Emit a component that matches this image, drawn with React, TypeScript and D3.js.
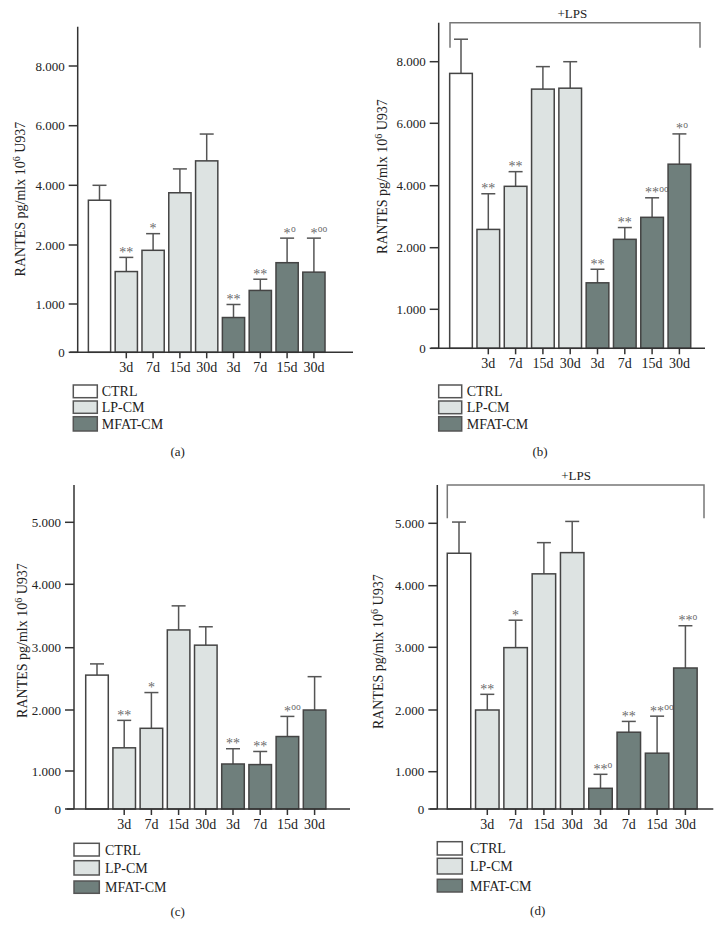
import React from "react";
import * as d3 from "d3";

// ---------- data ----------
const groups = ["CTRL", "LP-CM", "MFAT-CM"];
const days = ["3d", "7d", "15d", "30d"];
const barKeys = ["CTRL", "LP-3d", "LP-7d", "LP-15d", "LP-30d", "MF-3d", "MF-7d", "MF-15d", "MF-30d"];
const barGroup = [0, 1, 1, 1, 1, 2, 2, 2, 2];
const barLabels = ["", ...days, ...days];

const ticksAB = [0, 1000, 2000, 4000, 6000, 8000];
const ticksCD = [0, 1000, 2000, 3000, 4000, 5000];

// panel (a)
const meanA = [3500, 1550, 1910, 3750, 4820, 720, 1230, 1700, 1540];
const errA = [500, 240, 470, 800, 900, 270, 190, 530, 690];
const starsA = ["", "**", "*", "", "", "**", "**", "*", "*"];
const circlesA = ["", "", "", "", "", "", "", "o", "oo"];

// panel (b) +LPS
const meanB = [7620, 2590, 3980, 7110, 7140, 1430, 2270, 2980, 4690];
const errB = [1110, 1150, 470, 730, 860, 220, 380, 630, 970];
const starsB = ["", "**", "**", "", "", "**", "**", "**", "*"];
const circlesB = ["", "", "", "", "", "", "", "oo", "o"];

// panel (c)
const meanC = [2560, 1380, 1700, 3280, 3040, 1115, 1105, 1565, 2000];
const errC = [180, 450, 580, 380, 290, 250, 215, 330, 535];
const starsC = ["", "**", "*", "", "", "**", "**", "*", ""];
const circlesC = ["", "", "", "", "", "", "", "oo", ""];

// panel (d) +LPS
const meanD = [4520, 2000, 2995, 4190, 4530, 555, 1640, 1300, 2670];
const errD = [500, 250, 445, 500, 500, 375, 175, 600, 680];
const starsD = ["", "**", "*", "", "", "**", "**", "**", "**"];
const circlesD = ["", "", "", "", "", "o", "", "oo", "o"];

const captions = ["(a)", "(b)", "(c)", "(d)"];
const bracketLabel = "+LPS";

// ---------- style / layout ----------
const FILLS = ["#ffffff", "#dde3e2", "#6f7f7c"];
const FONT = "'Liberation Serif', 'Times New Roman', serif";
const fmt = d3.formatLocale({ decimal: ",", thousands: ".", grouping: [3], currency: ["", ""] }).format(",");

type Layout = {
  yPix: number[];
  axisX: number;
  axisTop: number;
  xStart: number;
  xEnd: number;
  c0: number;
  step: number;
  legendX: number;
  legendW: number;
  legendY: number[];
  legendH: number[];
  labelX: number;
  caption: [number, number];
  titleX: number;
  titleY: number;
  bracket?: { x1: number; x2: number; y: number; y2: number; tx: number; ty: number };
};

const layouts: Layout[] = [
  {
    yPix: [352.3, 304, 245, 185.3, 125.7, 66],
    axisX: 77.7, axisTop: 26.7, xStart: 70, xEnd: 353, c0: 99.5, step: 26.8,
    legendX: 73.3, legendW: 24, legendY: [385, 401, 416.7], legendH: [12.7, 12.3, 14.3], labelX: 101.7,
    caption: [177.7, 456], titleX: 20, titleY: 199,
  },
  {
    yPix: [348.3, 309.3, 247.7, 185.7, 123.3, 61.7],
    axisX: 438.7, axisTop: 22.7, xStart: 431, xEnd: 705, c0: 461, step: 27.3,
    legendX: 438.7, legendW: 23, legendY: [385, 401, 416.7], legendH: [12.7, 12.7, 14.3], labelX: 466.7,
    caption: [540, 456], titleX: 381.7, titleY: 176.5,
    bracket: { x1: 450, x2: 700, y: 22.7, y2: 47.7, tx: 572.3, ty: 18 },
  },
  {
    yPix: [809, 771, 710, 647.7, 584.3, 522.3],
    axisX: 74, axisTop: 485, xStart: 66.7, xEnd: 350, c0: 97, step: 27.2,
    legendX: 74, legendW: 25.3, legendY: [843.3, 860.7, 881], legendH: [12.7, 14.3, 12.3], labelX: 105,
    caption: [177.7, 916], titleX: 21.7, titleY: 640.5,
  },
  {
    yPix: [809, 771.7, 710, 647.3, 585.7, 523.3],
    axisX: 437.3, axisTop: 485, xStart: 430, xEnd: 713.3, c0: 459, step: 28.3,
    legendX: 437.3, legendW: 25, legendY: [841.7, 858.3, 879.3], legendH: [13.3, 15.7, 12.7], labelX: 470,
    caption: [537.7, 915], titleX: 378.3, titleY: 651.7,
    bracket: { x1: 447.3, x2: 704, y: 485, y2: 518.3, tx: 576, ty: 480 },
  },
];

const panels = [
  { ticks: ticksAB, mean: meanA, err: errA, stars: starsA, circles: circlesA },
  { ticks: ticksAB, mean: meanB, err: errB, stars: starsB, circles: circlesB },
  { ticks: ticksCD, mean: meanC, err: errC, stars: starsC, circles: circlesC },
  { ticks: ticksCD, mean: meanD, err: errD, stars: starsD, circles: circlesD },
];

function Panel({ idx }: { idx: number }) {
  const L = layouts[idx];
  const P = panels[idx];
  const y = d3.scaleLinear().domain(P.ticks).range(L.yPix);
  const x = d3
    .scaleBand<string>()
    .domain(barKeys)
    .range([L.c0 - L.step / 2, L.c0 - L.step / 2 + L.step * barKeys.length])
    .paddingInner(0.17)
    .paddingOuter(0.085);
  const bw = x.bandwidth();
  const zeroY = y(0);
  return (
    <g>
      {/* bars */}
      {barKeys.map((k, i) => {
        const x0 = x(k)!;
        const top = y(P.mean[i]);
        const cx = x0 + bw / 2;
        const et = y(P.mean[i] + P.err[i]);
        const starW = P.stars[i].length * 6.6;
        return (
          <g key={k}>
            <line x1={cx} x2={cx} y1={top} y2={et} stroke="#555" strokeWidth={1.5} />
            <line x1={cx - 7} x2={cx + 7} y1={et} y2={et} stroke="#555" strokeWidth={1.5} />
            <rect x={x0} y={top} width={bw} height={zeroY - top} fill={FILLS[barGroup[i]]} stroke="#444" strokeWidth={1.5} />
            {P.stars[i] && (
              <text x={cx} y={et - 0.5} textAnchor="middle" fontSize={14} fill="#6a6a6a" fontFamily={FONT}>
                {P.stars[i]}
              </text>
            )}
            {P.circles[i] && (
              <text x={cx + starW / 2 + 0.5} y={et - 6} textAnchor="start" fontSize={9.5} fill="#6a6a6a" fontFamily={FONT}>
                {P.circles[i]}
              </text>
            )}
          </g>
        );
      })}
      {/* y axis */}
      <line x1={L.axisX} x2={L.axisX} y1={L.axisTop} y2={zeroY} stroke="#333" strokeWidth={1.5} />
      {P.ticks.map((t) => (
        <g key={t}>
          <line x1={L.axisX - 9} x2={L.axisX} y1={y(t)} y2={y(t)} stroke="#333" strokeWidth={1.5} />
          <text x={L.axisX - 13} y={y(t)} dy="0.35em" textAnchor="end" fontSize={13} fill="#222" fontFamily={FONT}>
            {fmt(t)}
          </text>
        </g>
      ))}
      {/* x axis */}
      <line x1={L.xStart} x2={L.xEnd} y1={zeroY} y2={zeroY} stroke="#333" strokeWidth={1.5} />
      {barKeys.map((k, i) =>
        i === 0 ? null : (
          <g key={"xt" + k}>
            <line x1={x(k)! + bw / 2} x2={x(k)! + bw / 2} y1={zeroY} y2={zeroY + 6} stroke="#333" strokeWidth={1.5} />
            <text x={x(k)! + bw / 2} y={zeroY + 20} textAnchor="middle" fontSize={14} fill="#222" fontFamily={FONT}>
              {barLabels[i]}
            </text>
          </g>
        )
      )}
      {/* y title */}
      <text
        transform={`translate(${L.titleX},${L.titleY}) rotate(-90)`}
        dy="0.35em"
        textAnchor="middle"
        fontSize={14}
        fill="#222"
        fontFamily={FONT}
      >
        RANTES pg/mlx 10
        <tspan dy={-5} fontSize={10}>6</tspan>
        <tspan dy={5}> U937</tspan>
      </text>
      {/* bracket */}
      {L.bracket && (
        <g>
          <path
            d={`M${L.bracket.x1},${L.bracket.y2}V${L.bracket.y}H${L.bracket.x2}V${L.bracket.y2}`}
            fill="none"
            stroke="#777"
            strokeWidth={1.5}
          />
          <text x={L.bracket.tx} y={L.bracket.ty} textAnchor="middle" fontSize={13} fill="#222" fontFamily={FONT}>
            {bracketLabel}
          </text>
        </g>
      )}
      {/* legend */}
      {groups.map((g, gi) => (
        <g key={g}>
          <rect
            x={L.legendX}
            y={L.legendY[gi]}
            width={L.legendW}
            height={L.legendH[gi]}
            fill={FILLS[gi]}
            stroke="#555"
            strokeWidth={1.5}
          />
          <text
            x={L.labelX}
            y={L.legendY[gi] + L.legendH[gi] / 2}
            dy="0.36em"
            fontSize={14}
            fill="#222"
            fontFamily={FONT}
          >
            {g}
          </text>
        </g>
      ))}
      {/* caption */}
      <text x={L.caption[0]} y={L.caption[1]} textAnchor="middle" fontSize={13} fill="#222" fontFamily={FONT}>
        {captions[idx]}
      </text>
    </g>
  );
}

export default function App() {
  return (
    <svg
      width={723}
      height={937}
      viewBox="0 0 723 937"
      style={{ position: "absolute", left: 0, top: 0, background: "#fff" }}
    >
      <rect width={723} height={937} fill="#fff" />
      {[0, 1, 2, 3].map((i) => (
        <Panel key={i} idx={i} />
      ))}
    </svg>
  );
}
